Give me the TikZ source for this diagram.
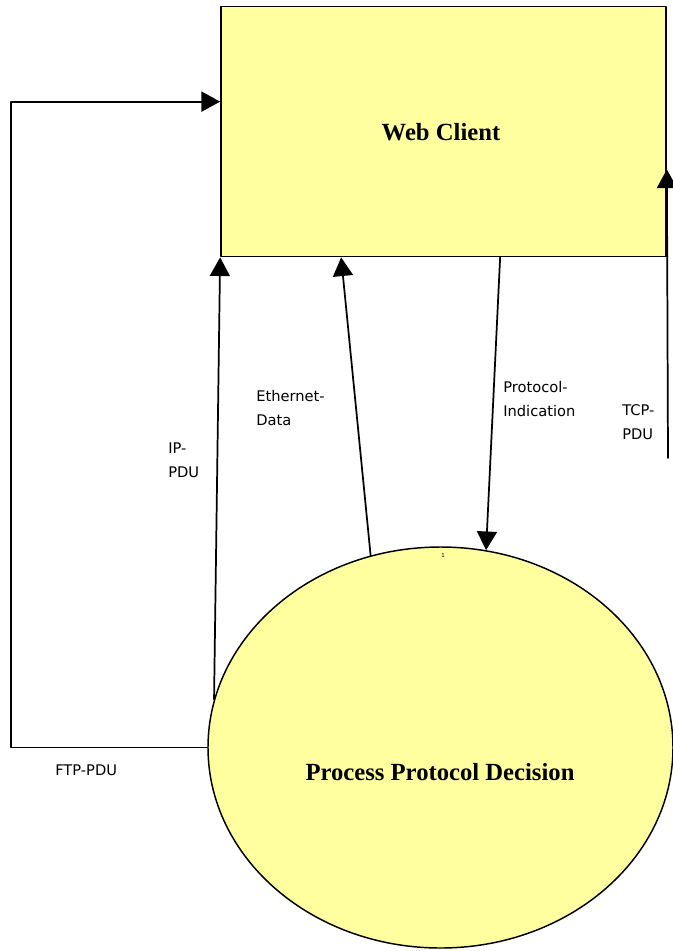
\documentclass[tikz,border=0pt]{standalone}
\usepackage{fontspec}
\setmainfont{Liberation Serif}
\setsansfont{DejaVu Sans}
\usetikzlibrary{arrows.meta,calc,positioning,shapes.geometric}
\definecolor{dfdyellow}{RGB}{255,255,160}

\begin{document}
\begin{tikzpicture}[x=0.75pt,y=-0.75pt,line cap=round,line join=round,
  flow/.style={line width=1.3pt,-{Triangle[width=15pt,length=14pt]}},
  flowlabel/.style={font=\sffamily\fontsize{11}{18}\selectfont,align=left,anchor=west,inner sep=0pt},
  title/.style={font=\bfseries\fontsize{18.5}{20}\selectfont}]
 \useasboundingbox (0,0) rectangle (673,951);
 % Entity and process.
 \node[draw,line width=1.3pt,fill=dfdyellow,minimum width=333.75pt,minimum height=187.5pt,
  inner sep=0pt] (client) at (443.5,131.5) {};
 \node[title] at (441,132) {Web Client};
 \node[ellipse,draw,line width=1.1pt,fill=dfdyellow,minimum width=348.75pt,minimum height=300.75pt,
  inner sep=0pt] (ppd) at (440.5,747.5) {};
 \node[title] at (440,772) {Process Protocol Decision};
 \node[font=\sffamily\fontsize{4}{4}\selectfont,inner sep=0pt] (ppdnum) at (443,556) {1};
 % Data flows.
 \coordinate (ethtop) at ($(client.south west)+(121,0)$);
 \coordinate (indtop) at ($(client.south west)+(280,0)$);
 \coordinate (tcpfoot) at (668,458);
 \draw[flow] (ppd.168) -- (client.south west);
 \draw[flow] (ppd.110) -- (ethtop);
 \draw[flow] (indtop) -- (ppd.77.5);
 \draw[flow] (tcpfoot) -- ($(client.south east)+(0,-88)$);
 \draw[flow] (ppd.west) -- ++(-196,0) |- ($(client.north west)+(0,96)$);
 % Labels.
 \node[flowlabel] (iplab) at (168,460) {IP-\\PDU};
 \node[flowlabel] (ethlab) at (256,408) {Ethernet-\\Data};
 \node[flowlabel] (indlab) at (503,399) {Protocol-\\Indication};
 \node[flowlabel] (tcplab) at (622,422) {TCP-\\PDU};
 \node[flowlabel] (ftplab) at (55,770) {FTP-PDU};
\end{tikzpicture}
\end{document}
